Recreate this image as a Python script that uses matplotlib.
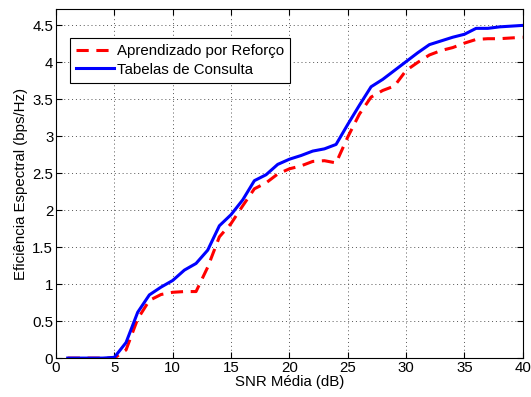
import numpy as np
import matplotlib
matplotlib.use("Agg")
import matplotlib.pyplot as plt
from matplotlib.ticker import FormatStrFormatter

plt.rcParams['font.family'] = ['Liberation Sans', 'DejaVu Sans']

snr = list(range(1, 41))
# Aprendizado por Reforço (red dashed)
rl = [0, 0, 0, 0, 0, 0.11, 0.53, 0.78, 0.86, 0.89,
      0.90, 0.90, 1.23, 1.64, 1.82, 2.06, 2.29, 2.37, 2.49, 2.56,
      2.60, 2.66, 2.67, 2.64, 2.99, 3.30, 3.53, 3.62, 3.68, 3.89,
      4.00, 4.10, 4.16, 4.20, 4.26, 4.31, 4.32, 4.32, 4.33, 4.34]
# Tabelas de Consulta (blue solid)
lut = [0, 0, 0, 0, 0.01, 0.21, 0.62, 0.855, 0.96, 1.05,
       1.19, 1.28, 1.46, 1.79, 1.94, 2.14, 2.40, 2.48, 2.62, 2.69,
       2.74, 2.80, 2.83, 2.89, 3.16, 3.42, 3.67, 3.77, 3.89, 4.01,
       4.13, 4.24, 4.29, 4.34, 4.38, 4.46, 4.46, 4.48, 4.49, 4.50]

fs = 10.8
fig = plt.figure(figsize=(5.31, 3.97), dpi=100)
ax = fig.add_axes([0.1055, 0.098, 0.879, 0.879])

ax.plot(snr, rl, 'r--', lw=2.2, dashes=(4, 2.5), label='Aprendizado por Reforço')
ax.plot(snr, lut, 'b-', lw=2.2, label='Tabelas de Consulta')

ax.set_xlim(0, 40)
ax.set_ylim(0, 4.72)
ax.set_xticks(np.arange(0, 41, 5))
ax.set_yticks(np.arange(0, 4.6, 0.5))
ax.yaxis.set_major_formatter(FormatStrFormatter('%g'))
ax.tick_params(direction='in', top=True, right=True, labelsize=fs, length=4, pad=2)
ax.grid(True, linestyle=(0, (1, 3)), color='#555555', lw=0.7)

ax.set_xlabel('SNR Média (dB)', fontsize=fs, labelpad=0)
ax.set_ylabel('Eficiência Espectral (bps/Hz)', fontsize=fs, labelpad=3)

leg = ax.legend(loc='upper left', bbox_to_anchor=(0.03, 0.917), fontsize=fs,
                fancybox=False, edgecolor='black', framealpha=1,
                handlelength=2.5, handletextpad=0.2, borderpad=0.4,
                labelspacing=0.3, borderaxespad=0)
leg.get_frame().set_linewidth(0.8)

fig.savefig('out.png', dpi=100)
